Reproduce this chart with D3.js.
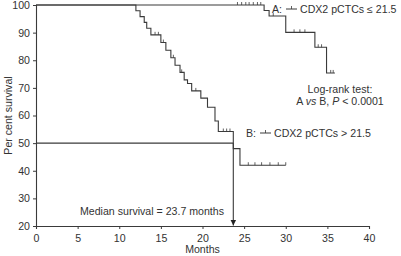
<!DOCTYPE html>
<html>
<head>
<meta charset="utf-8">
<script src="https://cdn.jsdelivr.net/npm/d3@7"></script>
<style>
  body { margin: 0; background: #fff; }
  svg text { font-family: "Liberation Sans", Arial, sans-serif; fill: #333; }
</style>
</head>
<body>
<div id="chart"></div>
<script>
// group A: CDX2 pCTCs <= 21.5
const timesA = [0, 27.4, 28.0, 30.0, 33.5, 34.9];
const survA = [100, 98.0, 96.0, 90.1, 84.7, 75.4];
const endA = 35.9;
const censorA = [24.2, 24.7, 25.2, 25.6, 26.1, 26.6, 27.0, 28.5, 31.0, 31.7, 32.3, 33.9, 34.3, 35.4, 35.7];

// group B: CDX2 pCTCs > 21.5
const timesB = [0, 12.0, 12.5, 13.0, 13.3, 13.8, 15.0, 15.6, 16.2, 16.7, 17.3, 17.8, 18.2, 18.7, 19.8, 20.6, 21.5, 21.9, 23.7, 24.5];
const survB = [100, 97.9, 95.8, 93.7, 91.6, 89.2, 86.4, 83.6, 80.9, 78.2, 75.6, 72.9, 71.6, 68.9, 66.3, 63.0, 58.0, 54.2, 48.0, 42.0];
const endB = 30.0;
const censorB = [14.3, 14.7, 15.3, 16.5, 17.5, 19.2, 22.5, 22.9, 23.3, 25.5, 26.3, 27.1, 28.1, 29.1, 30.0];

const medianSurvival = 23.7;
const xTicks = [0, 5, 10, 15, 20, 25, 30, 35, 40];
const yTicks = [20, 30, 40, 50, 60, 70, 80, 90, 100];

const width = 401, height = 256;
const margin = {top: 5, right: 32, bottom: 30, left: 36};
const lineColor = '#3a3a3a';
const fs = 10.6;

const svg = d3.select('#chart').append('svg')
    .attr('width', width)
    .attr('height', height);

const x = d3.scaleLinear().domain([0, 40]).range([margin.left, width - margin.right]);
const y = d3.scaleLinear().domain([20, 100]).range([height - margin.bottom, margin.top]);

// axes
const xAxis = svg.append('g')
    .attr('transform', 'translate(0,' + (height - margin.bottom) + ')')
    .call(d3.axisBottom(x).tickValues(xTicks).tickSize(3).tickPadding(5));
const yAxis = svg.append('g')
    .attr('transform', 'translate(' + margin.left + ',0)')
    .call(d3.axisLeft(y).tickValues(yTicks).tickSize(3).tickPadding(3));
[xAxis, yAxis].forEach(a => {
    a.select('.domain').attr('stroke', lineColor).attr('stroke-width', 1.1);
    a.selectAll('.tick line').attr('stroke', lineColor);
    a.selectAll('.tick text').attr('font-size', fs).style('fill', '#333')
        .attr('font-family', '"Liberation Sans", Arial, sans-serif');
});

svg.append('text')
    .text('Months')
    .attr('x', (x(0) + x(40)) / 2)
    .attr('y', 253)
    .attr('text-anchor', 'middle')
    .attr('font-size', fs);

svg.append('text')
    .text('Per cent survival')
    .attr('transform', 'translate(8,' + ((y(20) + y(100)) / 2) + ') rotate(-90)')
    .attr('text-anchor', 'middle')
    .attr('dominant-baseline', 'central')
    .attr('font-size', fs);

// median line and arrow
svg.append('defs').append('marker')
    .attr('id', 'arrow')
    .attr('viewBox', '0 0 10 10')
    .attr('refX', 10).attr('refY', 5)
    .attr('markerWidth', 5).attr('markerHeight', 6)
    .attr('orient', 'auto')
    .append('path')
    .attr('d', 'M0,0 L10,5 L0,10 Z')
    .attr('fill', '#222');

svg.append('line')
    .attr('x1', x(0)).attr('x2', x(medianSurvival))
    .attr('y1', y(50)).attr('y2', y(50))
    .attr('stroke', lineColor).attr('stroke-width', 1.1);

svg.append('line')
    .attr('x1', x(medianSurvival)).attr('x2', x(medianSurvival))
    .attr('y1', y(50)).attr('y2', y(20) - 0.5)
    .attr('stroke', lineColor).attr('stroke-width', 1.1)
    .attr('marker-end', 'url(#arrow)');

// KM curves
const stepLine = d3.line()
    .x(d => x(d[0]))
    .y(d => y(d[1]))
    .curve(d3.curveStepAfter);

function drawCurve(times, surv, end, censor) {
    let pts = times.map((t, i) => [t, surv[i]]);
    pts.push([end, surv[surv.length - 1]]);
    svg.append('path')
        .datum(pts)
        .attr('d', stepLine)
        .attr('fill', 'none')
        .attr('stroke', lineColor)
        .attr('stroke-width', 1.1);

    svg.append('g').selectAll('line')
        .data(censor)
        .enter()
        .append('line')
        .attr('x1', d => x(d)).attr('x2', d => x(d))
        .attr('y1', d => y(surv[d3.bisectRight(times, d) - 1]))
        .attr('y2', d => y(surv[d3.bisectRight(times, d) - 1]) - 3)
        .attr('stroke', lineColor)
        .attr('stroke-width', 0.8);
}

drawCurve(timesA, survA, endA, censorA);
drawCurve(timesB, survB, endB, censorB);

// legend-like labels
function legendLabel(lx, ly, prefix, label) {
    const g = svg.append('g');
    g.append('text').text(prefix)
        .attr('x', lx).attr('y', ly)
        .attr('dominant-baseline', 'central')
        .attr('font-size', fs);
    const sx = lx + 14;
    g.append('line')
        .attr('x1', sx).attr('x2', sx + 11)
        .attr('y1', ly).attr('y2', ly)
        .attr('stroke', lineColor).attr('stroke-width', 1);
    g.append('line')
        .attr('x1', sx + 5.5).attr('x2', sx + 5.5)
        .attr('y1', ly).attr('y2', ly - 3)
        .attr('stroke', lineColor).attr('stroke-width', 0.8);
    g.append('text').text(label)
        .attr('x', sx + 14).attr('y', ly)
        .attr('dominant-baseline', 'central')
        .attr('font-size', fs);
}

legendLabel(272, 9, 'A:', 'CDX2 pCTCs \u2264 21.5');
legendLabel(246, 133, 'B:', 'CDX2 pCTCs > 21.5');

svg.append('text')
    .text('Log-rank test:')
    .attr('x', 340).attr('y', 89)
    .attr('text-anchor', 'middle')
    .attr('dominant-baseline', 'central')
    .attr('font-size', fs);

const pText = svg.append('text')
    .attr('x', 340).attr('y', 101)
    .attr('text-anchor', 'middle')
    .attr('dominant-baseline', 'central')
    .attr('font-size', fs);
pText.append('tspan').text('A ');
pText.append('tspan').text('vs').attr('font-style', 'italic');
pText.append('tspan').text(' B, ');
pText.append('tspan').text('P').attr('font-style', 'italic');
pText.append('tspan').text(' < 0.0001');

svg.append('text')
    .text('Median survival = 23.7 months')
    .attr('x', 80).attr('y', 211)
    .attr('dominant-baseline', 'central')
    .attr('font-size', fs);
</script>
</body>
</html>
